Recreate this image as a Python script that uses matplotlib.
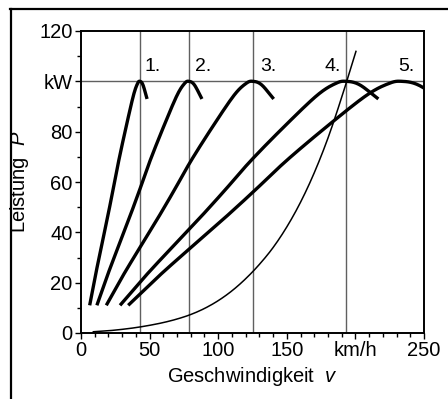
import numpy as np
import matplotlib
matplotlib.use("Agg")
import matplotlib.pyplot as plt
from matplotlib.lines import Line2D
from matplotlib.ticker import MultipleLocator, FixedLocator

plt.rcParams['font.family'] = ['Liberation Sans', 'DejaVu Sans']
plt.rcParams['mathtext.fontset'] = 'custom'
plt.rcParams['mathtext.it'] = 'Liberation Sans:italic'
plt.rcParams['mathtext.rm'] = 'Liberation Sans'

# Engine full-load characteristic (speed ratio to peak-power speed, power in kW)
engine_speed_ratio = [0.147, 0.25, 0.374, 0.45, 0.54, 0.64,
                      0.77, 0.89, 0.96, 1.00, 1.05, 1.12]
engine_power = [11, 23.5, 37.5, 46, 56.5, 68.5,
                82.5, 94.5, 99.2, 100, 98.6, 93]
# speed at peak power in each gear (km/h)
gear_labels = ["1.", "2.", "3.", "4.", "5."]
gear_peak_speed = [43, 78.7, 125.4, 193.5, 234]
gear_label_x = [46.6, 83, 130.5, 177.8, 231]

# driving resistance power
resist_speed = [9, 20, 30, 40, 50, 60, 70, 80, 90, 100, 110, 120,
                130, 140, 150, 160, 170, 180, 190, 200.4]
resist_power = [0.5, 0.9, 1.45, 2.15, 3.05, 4.15, 5.55, 7.35, 9.75, 12.85,
                16.75, 21.55, 27.25, 33.95, 42.15, 51.95, 63.65, 77.45,
                93.65, 111.9]

# reference lines
vline_speeds = [43, 78.7, 125.4, 193.5]
hline_power = 100

x_ticks = [0, 50, 100, 150, 200, 250]
x_ticklabels = ["0", "50", "100", "150", "km/h", "250"]
y_ticks = [0, 20, 40, 60, 80, 100, 120]
y_ticklabels = ["0", "20", "40", "60", "80", "kW", "120"]


def smooth_path(xs, ys, steps=12):
    """Catmull-Rom curve through the given points (rendering only)."""
    p = np.column_stack([xs, ys]).astype(float)
    ext = np.vstack([2 * p[0] - p[1], p, 2 * p[-1] - p[-2]])
    out = [p[0]]
    t = np.linspace(0, 1, steps + 1)[1:, None]
    for i in range(1, len(ext) - 2):
        p0, p1, p2, p3 = ext[i - 1], ext[i], ext[i + 1], ext[i + 2]
        seg = 0.5 * ((2 * p1) + (-p0 + p2) * t
                     + (2 * p0 - 5 * p1 + 4 * p2 - p3) * t ** 2
                     + (-p0 + 3 * p1 - 3 * p2 + p3) * t ** 3)
        out.extend(seg)
    out = np.array(out)
    return out[:, 0], out[:, 1]


fig = plt.figure(figsize=(4.48, 3.99), dpi=100)
ax = fig.add_axes([81/448, 1-333/399, (424-81)/448, (333-31)/399])

for v in vline_speeds:
    ax.axvline(v, color='#606060', lw=1.0, zorder=1)
ax.axhline(hline_power, color='#606060', lw=1.0, zorder=1)

ratio = np.array(engine_speed_ratio)
for vp in gear_peak_speed:
    sx, sy = smooth_path(ratio * vp, engine_power)
    ax.plot(sx, sy, color='black', lw=2.4,
            solid_capstyle='butt', solid_joinstyle='round', zorder=3)

rx, ry = smooth_path(resist_speed, resist_power)
ax.plot(rx, ry, color='black', lw=1.1, zorder=3)

for lab, xl in zip(gear_labels, gear_label_x):
    ax.text(xl, 105.7, lab, fontsize=14, ha='left', va='center')

ax.set_xlim(0, 250)
ax.set_ylim(0, 120)
ax.xaxis.set_major_locator(FixedLocator(x_ticks))
ax.set_xticklabels(x_ticklabels)
ax.yaxis.set_major_locator(FixedLocator(y_ticks))
ax.set_yticklabels(y_ticklabels)
ax.xaxis.set_minor_locator(MultipleLocator(10))
ax.yaxis.set_minor_locator(MultipleLocator(10))
ax.tick_params(which='major', direction='out', length=4, width=1,
               labelsize=14.5, pad=2)
ax.tick_params(which='minor', direction='out', length=3, width=1)
for s in ax.spines.values():
    s.set_linewidth(1.4)

ax.set_xlabel("Geschwindigkeit  $v$", fontsize=14.5, labelpad=3)
ax.set_ylabel("Leistung  $P$", fontsize=14.5, labelpad=6)

# outer frame (left and top visible)
fig.add_artist(Line2D([10.5/448, 10.5/448], [0, 1-9/399], color='black',
                      lw=1.6, transform=fig.transFigure))
fig.add_artist(Line2D([10/448, 1], [1-9/399, 1-9/399], color='black',
                      lw=1.6, transform=fig.transFigure))

fig.savefig("out.png", dpi=100)
